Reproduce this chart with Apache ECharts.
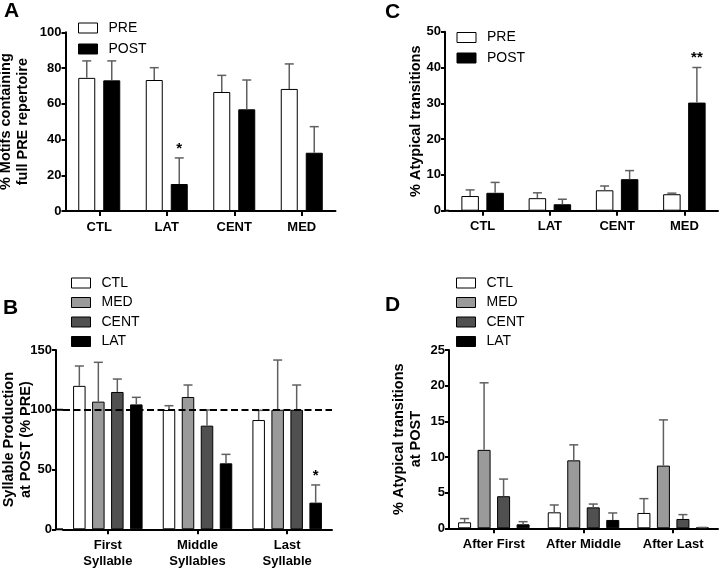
<!DOCTYPE html>
<html>
<head>
<meta charset="utf-8">
<script src="https://cdn.jsdelivr.net/npm/echarts@6/dist/echarts.min.js"></script>
<style>html,body{margin:0;padding:0;background:#fff}#c{width:720px;height:569px}</style>
</head>
<body>
<div id="c"></div>
<script>
// ---- Panel A ----
const catsA = ['CTL', 'LAT', 'CENT', 'MED'];
const preA = [74.5, 73.3, 66.6, 68.3];
const preATop = [84, 80.2, 75.9, 82.3];
const postA = [73.1, 15.1, 56.9, 32.6];
const postATop = [84, 29.7, 73.3, 47.2];
const starsAPost = ['', '*', '', ''];
const ticksA = [0, 20, 40, 60, 80, 100];

// ---- Panel C ----
const catsC = ['CTL', 'LAT', 'CENT', 'MED'];
const preC = [4.1, 3.5, 5.7, 4.6];
const preCTop = [5.8, 5.0, 6.9, 4.9];
const postC = [5.0, 1.8, 8.8, 30.2];
const postCTop = [7.9, 3.2, 11.2, 40.0];
const starsCPost = ['', '', '', '**'];
const ticksC = [0, 10, 20, 30, 40, 50];

// ---- Panel B ----
const catsB = ['First\nSyllable', 'Middle\nSyllables', 'Last\nSyllable'];
const ctlB = [120, 99.8, 91.4];
const ctlBTop = [136.6, 103.4, 99.5];
const medB = [106.8, 110.7, 100];
const medBTop = [139.7, 120.7, 141.6];
const centB = [114.9, 86.7, 100];
const centBTop = [125.7, 99.8, 120.7];
const latB = [104.5, 55.2, 22.3];
const latBTop = [110.4, 62.7, 37.1];
const starsBLat = ['', '', '*'];
const refLineB = 100;
const ticksB = [0, 50, 100, 150];

// ---- Panel D ----
const catsD = ['After First', 'After Middle', 'After Last'];
const ctlD = [0.84, 2.24, 2.15];
const ctlDTop = [1.36, 3.27, 4.16];
const medD = [11.0, 9.53, 8.79];
const medDTop = [20.4, 11.7, 15.2];
const centD = [4.5, 2.94, 1.31];
const centDTop = [6.9, 3.4, 1.92];
const latD = [0.56, 1.17, 0.1];
const latDTop = [0.93, 2.15, 0.12];
const ticksD = [0, 5, 10, 15, 20, 25];

const FONT = '"Liberation Sans", Arial, Helvetica, sans-serif';
const COL = { white: '#ffffff', med: '#9a9a9a', cent: '#505050', lat: '#000000' };
const ERR = '#606060';

const chart = echarts.init(document.getElementById('c'), null, { renderer: 'canvas' });

function xAxisCfg(gi, data) {
  return {
    type: 'category', gridIndex: gi, data: data,
    axisLine: { show: true, lineStyle: { color: '#000', width: 2 } },
    axisTick: { show: true, alignWithLabel: true, length: 5, lineStyle: { color: '#000', width: 2 } },
    axisLabel: { color: '#000', fontFamily: FONT, fontWeight: 'bold', fontSize: 13, margin: 8, lineHeight: 16, interval: 0 },
    splitLine: { show: false }
  };
}
function yAxisCfg(gi, ticks, name, gap, offset) {
  return {
    type: 'value', gridIndex: gi, min: ticks[0], max: ticks[ticks.length - 1],
    interval: ticks[1] - ticks[0], offset: offset || 0,
    name: name, nameLocation: 'middle', nameRotate: 90, nameGap: gap, nameMoveOverlap: false,
    nameTextStyle: { color: '#000', fontFamily: FONT, fontWeight: 'bold', fontSize: 14.5, lineHeight: 17 },
    axisLine: { show: true, lineStyle: { color: '#000', width: 2 } },
    axisTick: { show: true, length: 4, lineStyle: { color: '#000', width: 2 } },
    axisLabel: { color: '#000', fontFamily: FONT, fontWeight: 'bold', fontSize: 13, margin: 4 },
    splitLine: { show: false }
  };
}
function barSeries(name, gi, data, color, bw, gap, extra) {
  return Object.assign({
    type: 'bar', name: name, xAxisIndex: gi, yAxisIndex: gi, data: data,
    barWidth: bw, barGap: gap,
    itemStyle: { color: color, borderColor: '#000', borderWidth: 1 },
    emphasis: { disabled: true }, z: 2
  }, extra || {});
}
function errSeries(gi, means, tops, offset, stars) {
  return {
    type: 'custom', name: 'err' + gi + '_' + offset, xAxisIndex: gi, yAxisIndex: gi, z: 5,
    data: means.map((m, i) => [i, m, tops[i]]),
    encode: { x: 0, y: [1, 2] },
    silent: true,
    renderItem: function (params, api) {
      const base = api.coord([api.value(0), api.value(1)]);
      const top = api.coord([api.value(0), api.value(2)]);
      const x = base[0] + offset;
      const children = [
        { type: 'line', shape: { x1: x, y1: base[1], x2: x, y2: top[1] }, style: { stroke: ERR, lineWidth: 1.5 } },
        { type: 'line', shape: { x1: x - 4.5, y1: top[1], x2: x + 4.5, y2: top[1] }, style: { stroke: ERR, lineWidth: 1.5 } }
      ];
      const s = stars && stars[params.dataIndex];
      if (s) {
        children.push({ type: 'text', style: { text: s, x: x, y: top[1] - 2, align: 'center', verticalAlign: 'bottom', font: 'bold 15px ' + FONT, fill: '#000' } });
      }
      return { type: 'group', children: children };
    }
  };
}
function legendCfg(data, left, top, gap) {
  return {
    data: data, orient: 'vertical', left: left, top: top, padding: 0,
    itemWidth: 19, itemHeight: 10, itemGap: gap, icon: 'rect', selectedMode: false,
    itemStyle: { borderColor: '#000', borderWidth: 1 },
    textStyle: { color: '#000', fontFamily: FONT, fontSize: 14, padding: [0, 0, 0, 6] }
  };
}
function gridCfg(left, top, width, height) {
  return { left: left, top: top, width: width, height: height, containLabel: false, outerBoundsMode: 'none' };
}

// bar geometry (px)
const A = { bw: 17, gap: 8 }, C = { bw: 17.5, gap: 7.5 }, B = { bw: 12.5, gap: 6.5 }, D = { bw: 13, gap: 6.5 };
function off(g, i, n) { return (i - (n - 1) / 2) * (g.bw + g.gap); }

const option = {
  animation: false,
  backgroundColor: '#fff',
  grid: [
    gridCfg(65.5, 32.3, 270, 178.7),
    gridCfg(449, 31.7, 269, 179),
    gridCfg(63, 350, 269, 179.3),
    gridCfg(449, 350, 269, 178.3)
  ],
  xAxis: [xAxisCfg(0, catsA), xAxisCfg(1, catsC), xAxisCfg(2, catsB), xAxisCfg(3, catsD)],
  yAxis: [
    yAxisCfg(0, ticksA, '% Motifs containing\nfull PRE repertoire', 34, 0),
    yAxisCfg(1, ticksC, '% Atypical transitions', 21, 4),
    yAxisCfg(2, ticksB, 'Syllable Production\nat POST (% PRE)', 22, 7),
    yAxisCfg(3, ticksD, '% Atypical transitions\nat POST', 25, 0)
  ],
  legend: [
    legendCfg(['PRE', 'POST'], 78, 21, 7),
    legendCfg(['PRE', 'POST'], 456.5, 30.5, 6.5),
    legendCfg(['CTL', 'MED', 'CENT', 'LAT'], 71, 276, 5.5),
    legendCfg(['CTL', 'MED', 'CENT', 'LAT'], 456, 276, 5.5)
  ],
  series: [
    barSeries('PRE', 0, preA, COL.white, A.bw, (A.gap / A.bw * 100) + '%'),
    barSeries('POST', 0, postA, COL.lat, A.bw, (A.gap / A.bw * 100) + '%'),
    errSeries(0, preA, preATop, off(A, 0, 2), null),
    errSeries(0, postA, postATop, off(A, 1, 2), starsAPost),

    barSeries('PRE', 1, preC, COL.white, C.bw, (C.gap / C.bw * 100) + '%'),
    barSeries('POST', 1, postC, COL.lat, C.bw, (C.gap / C.bw * 100) + '%'),
    errSeries(1, preC, preCTop, off(C, 0, 2), null),
    errSeries(1, postC, postCTop, off(C, 1, 2), starsCPost),

    barSeries('CTL', 2, ctlB, COL.white, B.bw, (B.gap / B.bw * 100) + '%'),
    barSeries('MED', 2, medB, COL.med, B.bw, (B.gap / B.bw * 100) + '%'),
    barSeries('CENT', 2, centB, COL.cent, B.bw, (B.gap / B.bw * 100) + '%'),
    barSeries('LAT', 2, latB, COL.lat, B.bw, (B.gap / B.bw * 100) + '%', {
      z: 3,
      markLine: {
        silent: true, symbol: 'none', label: { show: false }, z: 10,
        lineStyle: { color: '#000', width: 2, type: [7, 3.5] },
        data: [{ yAxis: refLineB }]
      }
    }),
    errSeries(2, ctlB, ctlBTop, off(B, 0, 4), null),
    errSeries(2, medB, medBTop, off(B, 1, 4), null),
    errSeries(2, centB, centBTop, off(B, 2, 4), null),
    errSeries(2, latB, latBTop, off(B, 3, 4), starsBLat),

    barSeries('CTL', 3, ctlD, COL.white, D.bw, (D.gap / D.bw * 100) + '%'),
    barSeries('MED', 3, medD, COL.med, D.bw, (D.gap / D.bw * 100) + '%'),
    barSeries('CENT', 3, centD, COL.cent, D.bw, (D.gap / D.bw * 100) + '%'),
    barSeries('LAT', 3, latD, COL.lat, D.bw, (D.gap / D.bw * 100) + '%'),
    errSeries(3, ctlD, ctlDTop, off(D, 0, 4), null),
    errSeries(3, medD, medDTop, off(D, 1, 4), null),
    errSeries(3, centD, centDTop, off(D, 2, 4), null),
    errSeries(3, latD, latDTop, off(D, 3, 4), null)
  ]
};
chart.setOption(option);

// panel letters, and x-axis line extensions to the offset y axes
const yB = chart.convertToPixel({ yAxisIndex: 2 }, refLineB);
const y0B = chart.convertToPixel({ yAxisIndex: 2 }, 0);
const y0C = chart.convertToPixel({ yAxisIndex: 1 }, 0);
const letter = (t, x, y) => ({ type: 'text', x: x, y: y, style: { text: t, font: 'bold 21px ' + FONT, fill: '#000' } });
chart.setOption({
  graphic: [
    letter('A', 4, 1),
    letter('C', 385, 2),
    letter('B', 3, 298),
    letter('D', 385, 295),
    { type: 'line', shape: { x1: 56, y1: y0B, x2: 63, y2: y0B }, style: { stroke: '#000', lineWidth: 2 } },
    { type: 'line', shape: { x1: 445, y1: y0C, x2: 449, y2: y0C }, style: { stroke: '#000', lineWidth: 2 } },
    { type: 'line', shape: { x1: 57, y1: yB, x2: 63, y2: yB }, style: { stroke: '#000', lineWidth: 2, lineDash: [7, 3.5] }, z: 10 }
  ]
});
</script>
</body>
</html>
